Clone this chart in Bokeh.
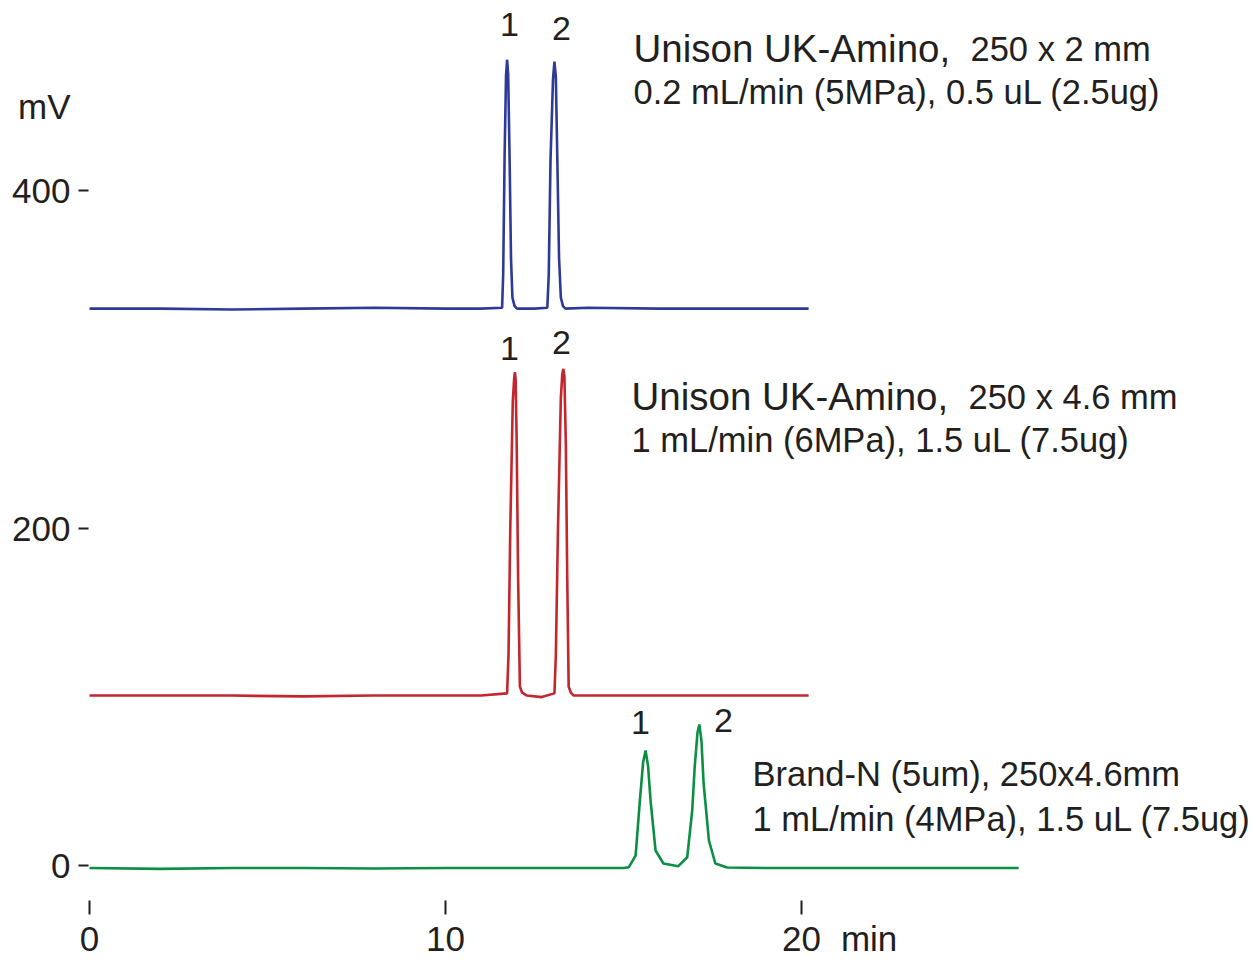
from bokeh.plotting import figure
from bokeh.models import Range1d, FixedTicker, Label, LinearAxis
from bokeh.embed import file_html
from bokeh.resources import INLINE

# ---------------- data ----------------
# time in min, signal in mV (traces are offset as in the original figure)
blue_time = [0, 2, 4, 6, 8, 10, 11.0, 11.59, 11.62, 11.66, 11.70, 11.73, 11.76, 11.80, 11.84, 11.88, 11.94, 12.01,
             12.5, 12.86, 12.90, 12.95, 13.02, 13.06, 13.10, 13.14, 13.19, 13.24, 13.30, 13.37, 14, 16, 18, 20.2]
blue_mv = [330, 330, 329.5, 330, 330.5, 330, 330, 330.5, 350, 420, 468, 477.5, 469, 420, 360, 336.5, 331.5, 330,
           330, 330.5, 350, 418, 466, 476.4, 467, 420, 360, 336.5, 331.5, 330, 330.5, 330, 330, 330]

red_time = [0, 2, 4, 6, 8, 10, 11.0, 11.73, 11.77, 11.82, 11.89, 11.93, 11.95, 11.97, 12.00, 12.04, 12.09, 12.15, 12.29,
            12.7, 13.06, 13.10, 13.16, 13.24, 13.28, 13.31, 13.34, 13.38, 13.42, 13.46, 13.52, 13.6, 14, 16, 18, 20.2]
red_mv = [100.7, 100.7, 100.7, 100.2, 100.7, 100.7, 100.7, 102, 125, 200, 275, 289, 292.3, 288, 250, 170, 106, 102.5, 100.7,
          99.8, 102, 125, 200, 277, 291, 294.3, 290, 250, 170, 106, 102.5, 100.7, 100.7, 100.7, 100.7, 100.7]

green_time = [0, 2, 4, 6, 8, 10, 12, 14, 15.0, 15.15, 15.34, 15.46, 15.55, 15.62, 15.69, 15.76, 15.90,
              16.12, 16.54, 16.79, 16.93, 17.00, 17.08, 17.13, 17.19, 17.25, 17.40, 17.58, 17.91,
              19, 21, 23, 25, 26.1]
green_mv = [-1.5, -2.0, -1.5, -1.5, -1.8, -1.5, -1.5, -1.5, -1.5, -1.0, 5.9, 38.5, 61, 68.1, 59, 38.5, 8.9,
            1.2, -0.4, 4.9, 32.6, 58.3, 79, 83.6, 74, 48.6, 14.8, 1.2, -1.2,
            -1.5, -1.5, -1.5, -1.5, -1.5]

x_ticks = [0, 10, 20]
y_ticks = [0, 200, 400]
peak_names = ["1", "2"]
blue_title = "Unison UK-Amino,"
blue_dim = "250 x 2 mm"
blue_cond = "0.2 mL/min (5MPa), 0.5 uL (2.5ug)"
red_title = "Unison UK-Amino,"
red_dim = "250 x 4.6 mm"
red_cond = "1 mL/min (6MPa), 1.5 uL (7.5ug)"
green_title = "Brand-N (5um), 250x4.6mm"
green_cond = "1 mL/min (4MPa), 1.5 uL (7.5ug)"
x_unit = "min"
y_unit = "mV"
x_unit_at = 21.9   # position (min) of the unit text on the time axis
y_unit_at = 450    # position (mV) of the unit text on the signal axis

# ---------------- layout ----------------
PXM = 35.6      # px per minute
PXV = 1.6875    # px per mV
T0_PX = 89      # page x of t=0
V0_PX = 865     # page y of 0 mV
FL, FR, FT, FB = 88, 1254, 0, 900   # frame edges in page px


def tx(px):
    return (px - T0_PX) / PXM


def vy(py):
    return (V0_PX - py) / PXV


FONT = "Liberation Sans"
TXT = "#231f20"

p = figure(frame_width=FR - FL, frame_height=FB - FT, output_backend="svg", toolbar_location=None,
           x_range=Range1d(tx(FL), tx(FR)), y_range=Range1d(vy(FB), vy(FT)),
           x_axis_location=None, y_axis_location=None,
           min_border_left=FL, min_border_right=0, min_border_top=0, min_border_bottom=0)
p.outline_line_color = None
p.grid.visible = False
p.background_fill_color = "white"
p.border_fill_color = "white"


def tick_axis(ticks, out):
    return LinearAxis(ticker=FixedTicker(ticks=ticks), axis_line_color=None,
                      major_tick_in=0, major_tick_out=out, major_tick_line_color=TXT,
                      major_tick_line_width=2, minor_tick_line_color=None,
                      major_label_overrides={t: "" for t in ticks},
                      major_label_text_font_size="1px", major_label_standoff=0)


def label_axis(ticks, unit_at, unit, standoff):
    return LinearAxis(ticker=FixedTicker(ticks=ticks + [unit_at]), axis_line_color=None,
                      major_tick_in=0, major_tick_out=0, major_tick_line_color=None,
                      minor_tick_line_color=None,
                      major_label_overrides={unit_at: unit},
                      major_label_text_font=FONT, major_label_text_font_size="35px",
                      major_label_text_color=TXT, major_label_standoff=standoff)


p.add_layout(tick_axis(x_ticks, 14), "below")
p.add_layout(label_axis(x_ticks, x_unit_at, x_unit, 4), "below")
p.add_layout(tick_axis(y_ticks, 10), "left")
p.add_layout(label_axis(y_ticks, y_unit_at, y_unit, 8), "left")

p.line(blue_time, blue_mv, line_color="#2e3a97", line_width=2.6)
p.line(red_time, red_mv, line_color="#c4262e", line_width=2.6)
p.line(green_time, green_mv, line_color="#0b8f45", line_width=2.6)


def lab(px, py, text, size, align="left"):
    p.add_layout(Label(x=tx(px), y=vy(py), text=text, text_font=FONT, text_font_size=size,
                       text_color=TXT, text_align=align, text_baseline="alphabetic"))


# peak numbers
lab(509, 24, peak_names[0], "34px", "center")
lab(561, 28, peak_names[1], "34px", "center")
lab(509, 348, peak_names[0], "34px", "center")
lab(561, 342, peak_names[1], "34px", "center")
lab(640, 722, peak_names[0], "34px", "center")
lab(723, 720, peak_names[1], "34px", "center")

# condition texts
lab(633, 48, blue_title, "38.5px")
lab(970, 48, blue_dim, "34.5px")
lab(633, 91, blue_cond, "34.5px")
lab(631, 396, red_title, "38.5px")
lab(968, 396, red_dim, "34.5px")
lab(631, 439, red_cond, "34.5px")
lab(752, 773, green_title, "34.5px")
lab(752, 818, green_cond, "34.5px")

open("out.html", "w").write(file_html(p, INLINE))
